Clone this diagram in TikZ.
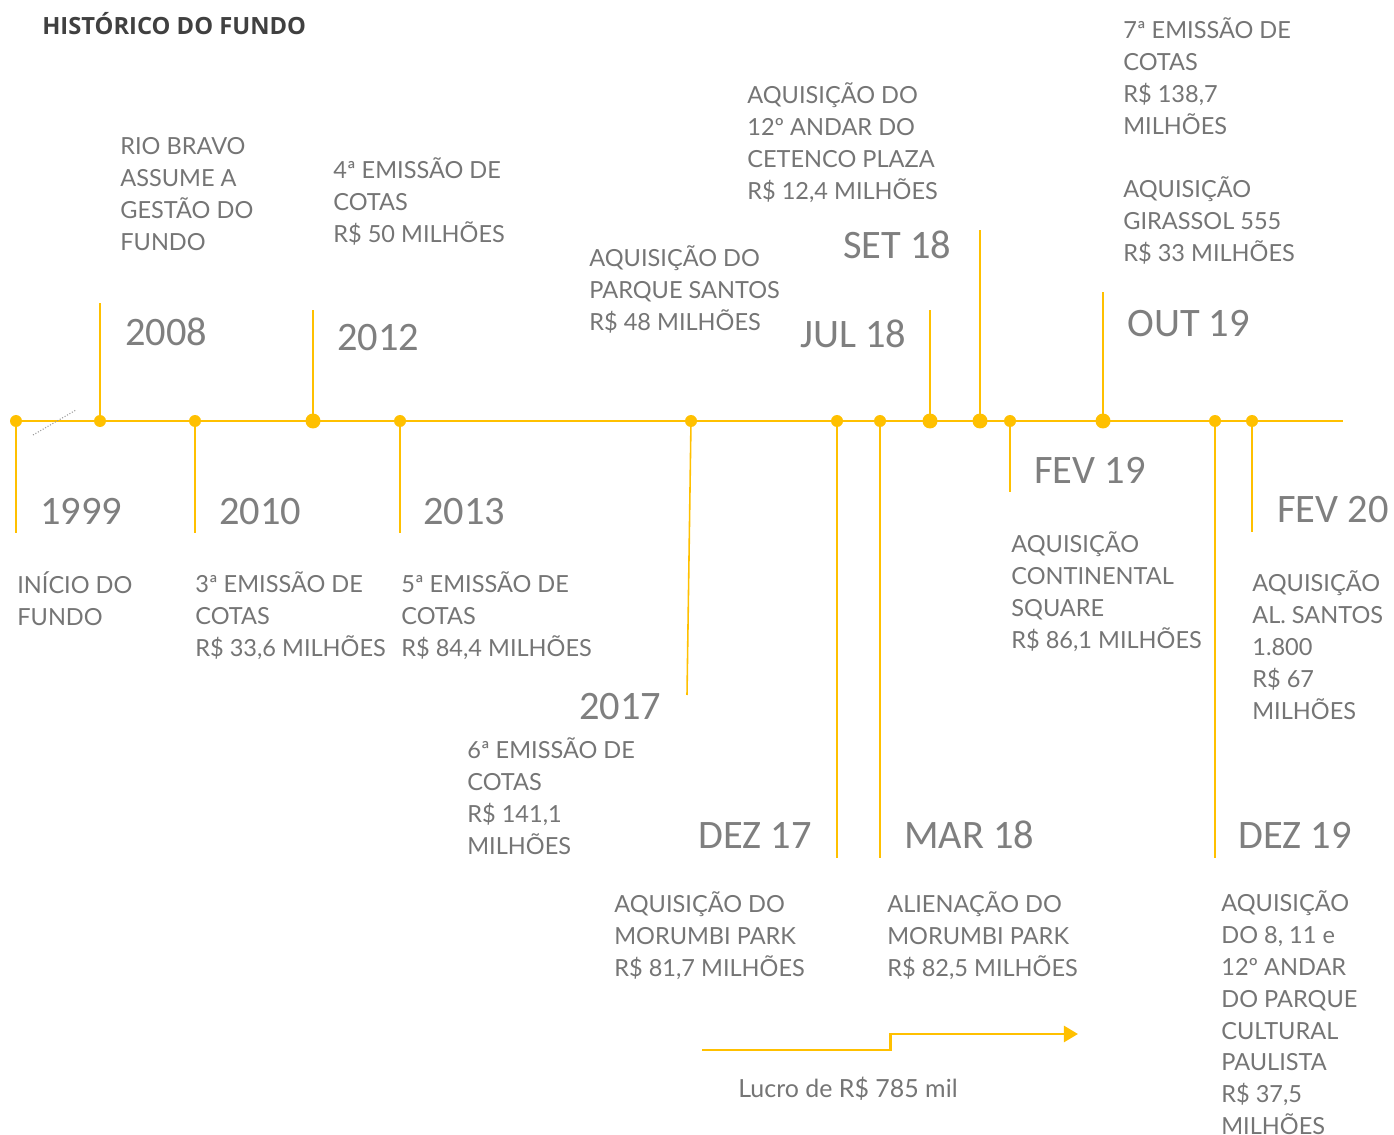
\documentclass[tikz,border=0pt]{standalone}
\usepackage{fontspec}
\setmainfont{Lato}
\newfontfamily\yearfont{Carlito}
\newfontfamily\titlefont{Open Sans}
\usetikzlibrary{arrows.meta, positioning}
\definecolor{timelinegold}{HTML}{FFC000}
\definecolor{labelgrey}{HTML}{757575}
\definecolor{yeargrey}{HTML}{7F7F7F}
\definecolor{titlegrey}{HTML}{404040}
\definecolor{dotgrey}{HTML}{9A9A9A}

\begin{document}
\begin{tikzpicture}[x=0.02cm, y=-0.02cm,
    mainline/.style={timelinegold, line width=1.2pt},
    stem/.style={timelinegold, line width=0.9pt},
    stepline/.style={timelinegold, line width=1.7pt},
    yearlbl/.style={yeargrey, font=\fontsize{23}{23}\yearfont, anchor=base west, inner sep=0pt},
    desclbl/.style={labelgrey, font=\fontsize{13.4}{18.14}\selectfont, align=left, anchor=north west,
      inner sep=0pt, yshift=14pt, execute at begin node={\rule{0pt}{14pt}}}]

  % Canvas
  \fill[white] (0,0) rectangle (1394,1135);
  \useasboundingbox (0,0) rectangle (1394,1135);

  % Title
  \node[titlegrey, font=\fontsize{13.5}{13.5}\titlefont\bfseries, anchor=base west, inner sep=0pt] (title) at (42,35) {HISTÓRICO DO FUNDO};

  % Points on the timeline
  \foreach \n/\x in {a/16, b/100, c/195, d/313, e/400, f/691, g/837, h/880, i/930, j/980, k/1010, l/1103, m/1215, n/1252} {
    \coordinate (p\n) at (\x,421);
  }
  \coordinate (lineend) at (1343,421);

  % Main line and the small dotted break
  \draw[mainline] (pa) -- (lineend);
  \draw[dotgrey, densely dotted, line width=0.6pt] (33,435) -- (76,410);

  % Stems
  \foreach \n/\y in {a/533, b/303, c/533, d/310, e/533, g/858, h/858, i/310, j/230, k/492, l/292, m/858, n/532} {
    \draw[stem] (p\n) -- (p\n |- 0,\y);
  }
  \coordinate (fend) at (687,695);
  \draw[stem] (pf) -- (fend);

  % Dots
  \foreach \n in {a, b, c, e, f, g, h, k, m, n} {
    \fill[timelinegold] (p\n) circle (6);
  }
  \foreach \n in {d, i, j, l} {
    \fill[timelinegold] (p\n) circle (7.5);
  }

  % Years and months
  \node[yearlbl] (y1999) at (40,524) {1999};
  \node[yearlbl] (y2008) at (125,346) {2008};
  \node[yearlbl] (y2010) at (219,524) {2010};
  \node[yearlbl] (y2012) at (337,351) {2012};
  \node[yearlbl] (y2013) at (423,524) {2013};
  \node[yearlbl] (y2017) at (579,719) {2017};
  \node[yearlbl] (ydez17) at (698,848) {DEZ 17};
  \node[yearlbl] (ymar18) at (904,848) {MAR 18};
  \node[yearlbl] (yjul18) at (800,348) {JUL 18};
  \node[yearlbl] (yset18) at (843,259) {SET 18};
  \node[yearlbl] (yfev19) at (1034,483) {FEV 19};
  \node[yearlbl] (yout19) at (1127,337) {OUT 19};
  \node[yearlbl] (ydez19) at (1238,848) {DEZ 19};
  \node[yearlbl] (yfev20) at (1277,522) {FEV 20};

  % Events above the line
  \node[desclbl] (rio) at (120,162) {RIO BRAVO\\ASSUME A\\GESTÃO DO\\FUNDO};
  \node[desclbl] (em4) at (333,182) {4ª EMISSÃO DE\\COTAS\\R\$ 50 MILHÕES};
  \node[desclbl] (santos) at (589,270) {AQUISIÇÃO DO\\PARQUE SANTOS\\R\$ 48 MILHÕES};
  \node[desclbl] (cetenco) at (747,107) {AQUISIÇÃO DO\\12º ANDAR DO\\CETENCO PLAZA\\R\$ 12,4 MILHÕES};
  \node[desclbl] (em7) at (1123,42) {7ª EMISSÃO DE\\COTAS\\R\$ 138,7\\MILHÕES\\[18.14pt]AQUISIÇÃO\\GIRASSOL 555\\R\$ 33 MILHÕES};

  % Events below the line
  \node[desclbl] (inicio) at (17,596) {INÍCIO DO\\FUNDO};
  \node[desclbl] (em3) at (195,596) {3ª EMISSÃO DE\\COTAS\\R\$ 33,6 MILHÕES};
  \node[desclbl] (em5) at (401,596) {5ª EMISSÃO DE\\COTAS\\R\$ 84,4 MILHÕES};
  \node[desclbl] (em6) at (467,762) {6ª EMISSÃO DE\\COTAS\\R\$ 141,1\\MILHÕES};
  \node[desclbl] (morumbi) at (614,916) {AQUISIÇÃO DO\\MORUMBI PARK\\R\$ 81,7 MILHÕES};
  \node[desclbl] (alienacao) at (887,916) {ALIENAÇÃO DO\\MORUMBI PARK\\R\$ 82,5 MILHÕES};
  \node[desclbl] (continental) at (1011,556) {AQUISIÇÃO\\CONTINENTAL\\SQUARE\\R\$ 86,1 MILHÕES};
  \node[desclbl] (alsantos) at (1252,595) {AQUISIÇÃO\\AL. SANTOS\\1.800\\R\$ 67\\MILHÕES};
  \node[desclbl] (paulista) at (1221,915) {AQUISIÇÃO\\DO 8, 11 e\\12º ANDAR\\DO PARQUE\\CULTURAL\\PAULISTA\\R\$ 37,5\\MILHÕES};

  % Profit step arrow
  \coordinate (lucrostart) at (702,1050);
  \coordinate (lucroend) at (1078,1034);
  \draw[stepline, -{Triangle[length=8pt, width=9pt]}] (lucrostart) -- (890,1050) -- (890,1034) -- (lucroend);
  \node[desclbl, font=\fontsize{14.2}{18.14}\selectfont] (lucro) at (738,1097) {Lucro de R\$ 785 mil};
\end{tikzpicture}
\end{document}
